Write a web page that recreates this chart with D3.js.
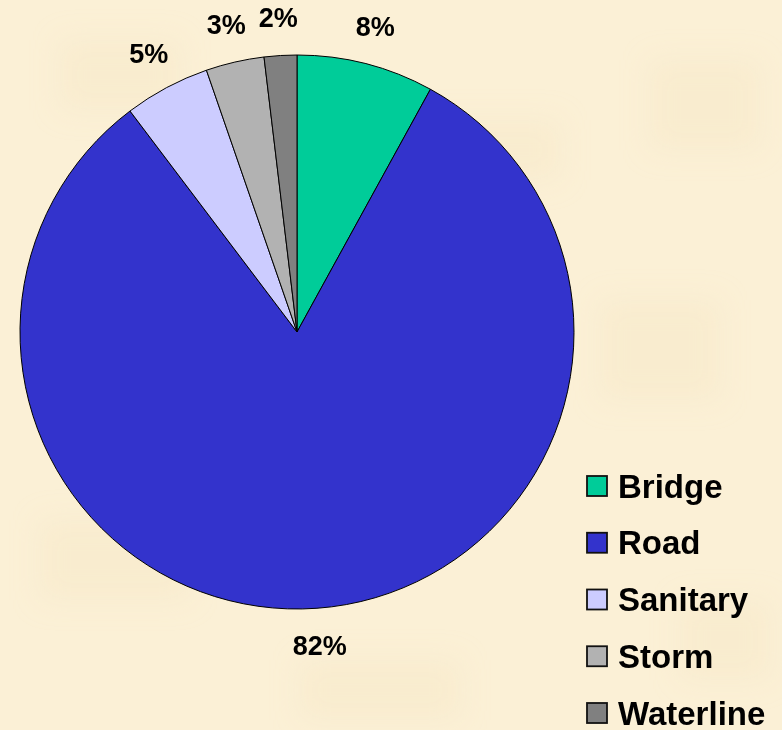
<!DOCTYPE html>
<html>
<head>
<meta charset="utf-8">
<script src="https://cdn.jsdelivr.net/npm/d3@7"></script>
<style>
  html, body { margin: 0; padding: 0; background: #fbf0d6; }
  svg { display: block; }
</style>
</head>
<body>
<div id="chart"></div>
<script>
const categories = ['Bridge', 'Road', 'Sanitary', 'Storm', 'Waterline'];
const values = [8.0, 81.7, 5.0, 3.4, 1.9];
const labels = ['8%', '82%', '5%', '3%', '2%'];
const colors = ['#00cc99', '#3333cc', '#ccccff', '#b2b2b2', '#808080'];

function drawPie() {
    const width = 782;
    const height = 730;
    const cx = 297, cy = 332, radius = 277;

    const svg = d3.select("#chart").append("svg")
        .attr("width", width)
        .attr("height", height)
        .attr("viewBox", [0, 0, width, height]);

    // parchment-like background: flat fill plus a few soft patches
    const defs = svg.append("defs");
    defs.append("filter").attr("id", "blur")
        .append("feGaussianBlur").attr("stdDeviation", 14);
    svg.append("rect")
        .attr("width", width)
        .attr("height", height)
        .attr("fill", "#fbf0d6");
    const patches = [[60, 40, 120, 70], [420, 120, 140, 60], [650, 60, 110, 90],
                     [40, 520, 150, 80], [600, 300, 120, 100], [300, 660, 160, 60],
                     [680, 600, 90, 80], [150, 250, 100, 80]];
    svg.append("g").attr("filter", "url(#blur)")
        .selectAll("rect")
        .data(patches)
        .join("rect")
            .attr("x", d => d[0]).attr("y", d => d[1])
            .attr("width", d => d[2]).attr("height", d => d[3])
            .attr("fill", "#f5e6c2")
            .attr("opacity", 0.35);

    const pie = d3.pie().sort(null).value(d => d.value);
    const arcs = pie(categories.map((c, i) => ({name: c, value: values[i], label: labels[i]})));

    const arc = d3.arc().innerRadius(0).outerRadius(radius);
    const labelArc = d3.arc().innerRadius(315).outerRadius(315);

    const g = svg.append("g").attr("transform", `translate(${cx},${cy})`);

    g.selectAll("path")
        .data(arcs)
        .join("path")
            .attr("d", arc)
            .attr("fill", (d, i) => colors[i])
            .attr("stroke", "#000")
            .attr("stroke-width", 1);

    g.selectAll("text")
        .data(arcs)
        .join("text")
            .attr("transform", d => `translate(${labelArc.centroid(d)})`)
            .attr("text-anchor", "middle")
            .attr("dominant-baseline", "central")
            .style("font-family", "Liberation Sans, Arial, sans-serif")
            .style("font-weight", "bold")
            .style("font-size", "27px")
            .text(d => d.data.label);

    // legend
    const y = d3.scalePoint().domain(categories).range([486, 713]);
    const legend = svg.append("g");
    const item = legend.selectAll("g")
        .data(categories)
        .join("g")
            .attr("transform", d => `translate(587,${y(d)})`);

    item.append("rect")
        .attr("x", 0)
        .attr("y", -10)
        .attr("width", 20)
        .attr("height", 20)
        .attr("fill", (d, i) => colors[i])
        .attr("stroke", "#111")
        .attr("stroke-width", 1.8);

    item.append("text")
        .attr("x", 31)
        .attr("y", 0)
        .attr("dominant-baseline", "central")
        .style("font-family", "Liberation Sans, Arial, sans-serif")
        .style("font-weight", "bold")
        .style("font-size", "33px")
        .text(d => d);
}

drawPie();
</script>
</body>
</html>
